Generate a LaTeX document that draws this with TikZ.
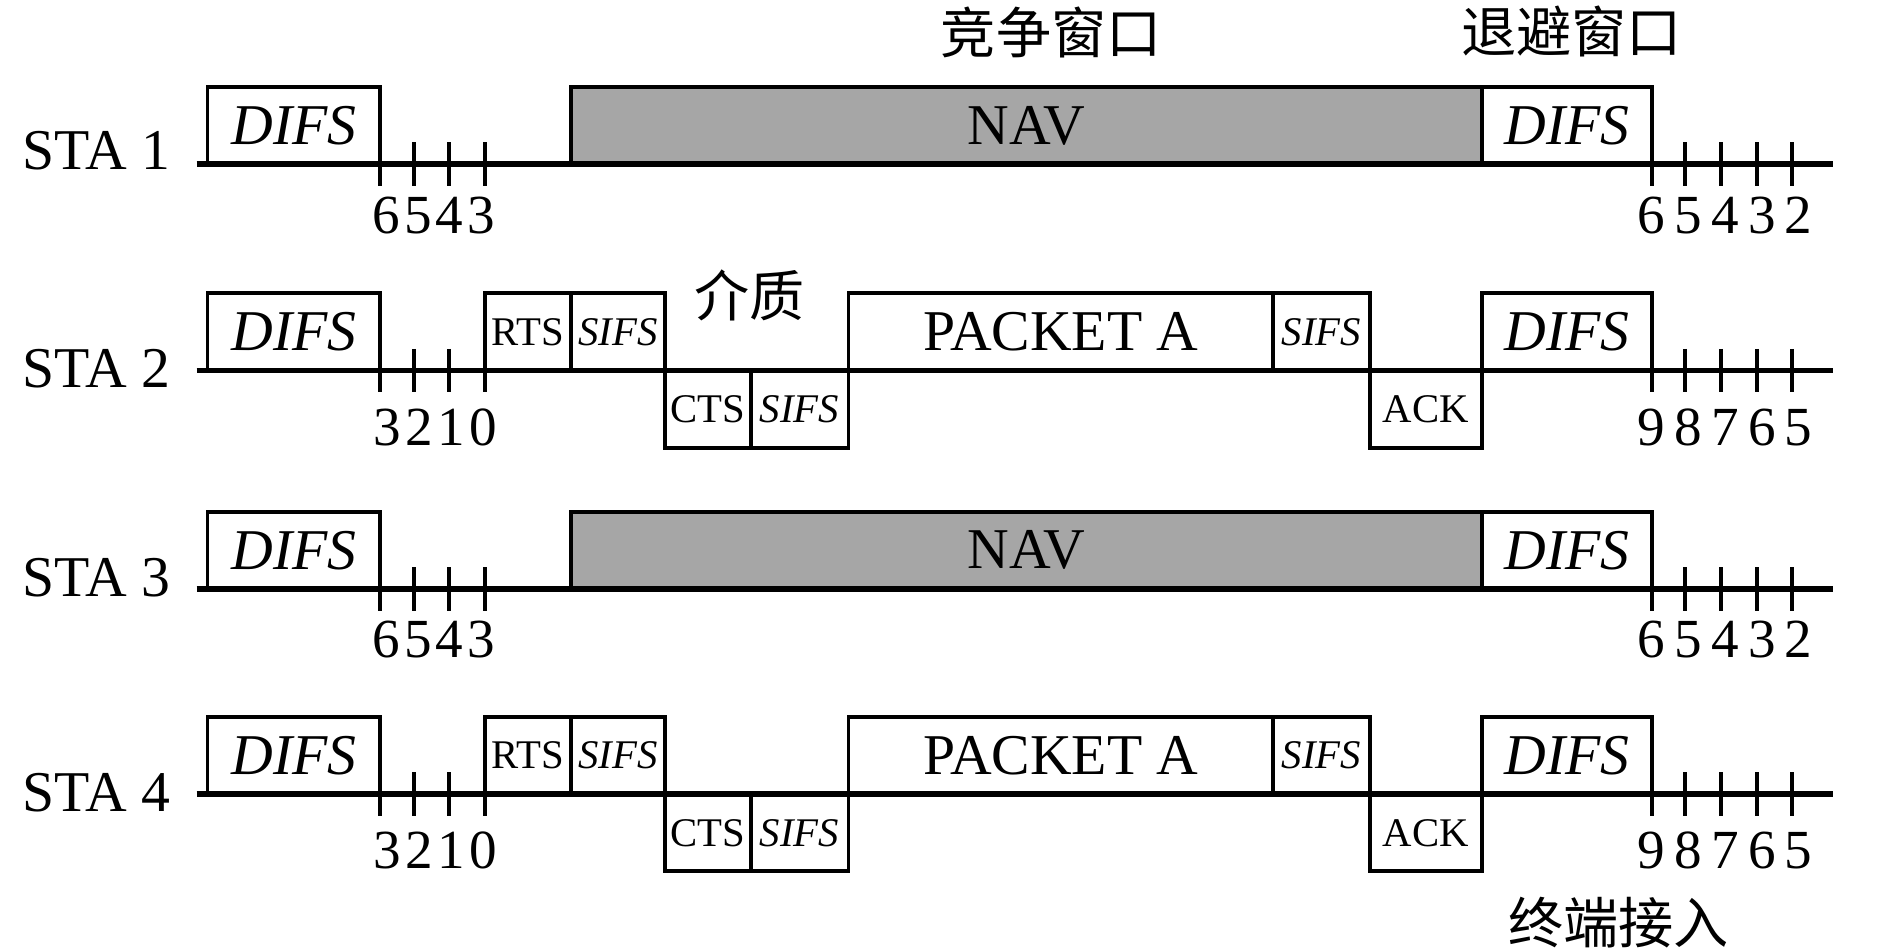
\documentclass[tikz,border=0pt]{standalone}
\usepackage{fontspec}
\setmainfont{Liberation Serif}
\newfontfamily\cjk{Noto Sans CJK SC}
\usepackage{tikz}
\usetikzlibrary{positioning}
\tikzstyle{slot} = [rectangle, draw=black, line width=0.9pt, fill=white, inner sep=0pt, outer sep=0pt, minimum height=0.64cm, font=\fontsize{13.6}{16}\selectfont]
\tikzstyle{short} = [slot, font=\fontsize{9.6}{11}\selectfont]
\tikzstyle{navslot} = [slot, fill=black!35]
\tikzstyle{timeline} = [line width=1.3pt]
\tikzstyle{tickmark} = [line width=0.9pt]
\tikzstyle{sta} = [anchor=east, inner sep=0pt, font=\fontsize{13.6}{16}\selectfont]
\tikzstyle{digits} = [inner sep=0pt, font=\fontsize{13}{16}\selectfont]
\tikzstyle{note} = [inner sep=0pt, font=\cjk\fontsize{13}{16}\selectfont]

\begin{document}
\begin{tikzpicture}
\useasboundingbox (0,0) rectangle (15.66,-7.87);

% titles
\node[note] (cw) at (8.71,-0.27) {竞争窗口};
\node[note] (bw) at (13.02,-0.26) {退避窗口};
\node[note] (med) at (6.21,-2.45) {介质};
\node[note] (acc) at (13.41,-7.64) {终端接入};

% STA 1
\node[sta] (l1) at (1.42,-1.25) {STA 1};
\node[slot, minimum width=1.43cm] (d1) at (2.435,-1.04) {\textit{DIFS}};
\node[navslot, minimum width=7.55cm] (nav1) at (8.505,-1.04) {NAV};
\node[slot, minimum width=1.41cm] (e1) at (12.985,-1.04) {\textit{DIFS}};
\draw[timeline] (1.63,-1.36) -- (15.19,-1.36);
\draw[tickmark] (d1.south east) -- ++(0,-0.18);
\draw[tickmark] (3.43,-1.18) -- (3.43,-1.54);
\draw[tickmark] (3.72,-1.18) -- (3.72,-1.54);
\draw[tickmark] (4.02,-1.18) -- (4.02,-1.54);
\draw[tickmark] (e1.south east) -- ++(0,-0.18);
\draw[tickmark] (13.96,-1.18) -- (13.96,-1.54);
\draw[tickmark] (14.26,-1.18) -- (14.26,-1.54);
\draw[tickmark] (14.56,-1.18) -- (14.56,-1.54);
\draw[tickmark] (14.85,-1.18) -- (14.85,-1.54);
\node[digits] (c1) at (3.595,-1.785) {6\kern1pt5\kern1pt4\kern1pt3};
\node[digits] (r1) at (14.295,-1.785) {6\,5\,4\,3\,2};

% STA 2
\node[sta] (l2) at (1.42,-3.055) {STA 2};
\node[slot, minimum width=1.43cm] (d2) at (2.435,-2.75) {\textit{DIFS}};
\node[short, minimum width=0.71cm] (rts2) at (4.375,-2.75) {RTS};
\node[short, minimum width=0.78cm] (s2) at (5.12,-2.75) {\textit{SIFS}};
\node[short, minimum width=0.71cm] (cts2) at (5.865,-3.39) {CTS};
\node[short, minimum width=0.81cm] (t2) at (6.625,-3.39) {\textit{SIFS}};
\node[slot, minimum width=3.52cm] (pk2) at (8.79,-2.75) {PACKET A};
\node[short, minimum width=0.80cm] (u2) at (10.95,-2.75) {\textit{SIFS}};
\node[short, minimum width=0.93cm] (ack2) at (11.815,-3.39) {ACK};
\node[slot, minimum width=1.41cm] (e2) at (12.985,-2.75) {\textit{DIFS}};
\draw[timeline] (1.63,-3.07) -- (15.19,-3.07);
\draw[tickmark] (d2.south east) -- ++(0,-0.18);
\draw[tickmark] (3.43,-2.89) -- (3.43,-3.25);
\draw[tickmark] (3.72,-2.89) -- (3.72,-3.25);
\draw[tickmark] (rts2.south west) -- ++(0,-0.18);
\draw[tickmark] (e2.south east) -- ++(0,-0.18);
\draw[tickmark] (13.96,-2.89) -- (13.96,-3.25);
\draw[tickmark] (14.26,-2.89) -- (14.26,-3.25);
\draw[tickmark] (14.56,-2.89) -- (14.56,-3.25);
\draw[tickmark] (14.85,-2.89) -- (14.85,-3.25);
\node[digits] (c2) at (3.606,-3.54) {3\kern1pt2\kern1pt1\kern1pt0};
\node[digits] (r2) at (14.295,-3.54) {9\,8\,7\,6\,5};

% STA 3
\node[sta] (l3) at (1.42,-4.787) {STA 3};
\node[slot, minimum width=1.43cm] (d3) at (2.435,-4.56) {\textit{DIFS}};
\node[navslot, minimum width=7.55cm] (nav3) at (8.505,-4.56) {NAV};
\node[slot, minimum width=1.41cm] (e3) at (12.985,-4.56) {\textit{DIFS}};
\draw[timeline] (1.63,-4.88) -- (15.19,-4.88);
\draw[tickmark] (d3.south east) -- ++(0,-0.18);
\draw[tickmark] (3.43,-4.70) -- (3.43,-5.06);
\draw[tickmark] (3.72,-4.70) -- (3.72,-5.06);
\draw[tickmark] (4.02,-4.70) -- (4.02,-5.06);
\draw[tickmark] (e3.south east) -- ++(0,-0.18);
\draw[tickmark] (13.96,-4.70) -- (13.96,-5.06);
\draw[tickmark] (14.26,-4.70) -- (14.26,-5.06);
\draw[tickmark] (14.56,-4.70) -- (14.56,-5.06);
\draw[tickmark] (14.85,-4.70) -- (14.85,-5.06);
\node[digits] (c3) at (3.595,-5.30) {6\kern1pt5\kern1pt4\kern1pt3};
\node[digits] (r3) at (14.295,-5.30) {6\,5\,4\,3\,2};

% STA 4
\node[sta] (l4) at (1.42,-6.57) {STA 4};
\node[slot, minimum width=1.43cm] (d4) at (2.435,-6.26) {\textit{DIFS}};
\node[short, minimum width=0.71cm] (rts4) at (4.375,-6.26) {RTS};
\node[short, minimum width=0.78cm] (s4) at (5.12,-6.26) {\textit{SIFS}};
\node[short, minimum width=0.71cm] (cts4) at (5.865,-6.90) {CTS};
\node[short, minimum width=0.81cm] (t4) at (6.625,-6.90) {\textit{SIFS}};
\node[slot, minimum width=3.52cm] (pk4) at (8.79,-6.26) {PACKET A};
\node[short, minimum width=0.80cm] (u4) at (10.95,-6.26) {\textit{SIFS}};
\node[short, minimum width=0.93cm] (ack4) at (11.815,-6.90) {ACK};
\node[slot, minimum width=1.41cm] (e4) at (12.985,-6.26) {\textit{DIFS}};
\draw[timeline] (1.63,-6.58) -- (15.19,-6.58);
\draw[tickmark] (d4.south east) -- ++(0,-0.18);
\draw[tickmark] (3.43,-6.40) -- (3.43,-6.76);
\draw[tickmark] (3.72,-6.40) -- (3.72,-6.76);
\draw[tickmark] (rts4.south west) -- ++(0,-0.18);
\draw[tickmark] (e4.south east) -- ++(0,-0.18);
\draw[tickmark] (13.96,-6.40) -- (13.96,-6.76);
\draw[tickmark] (14.26,-6.40) -- (14.26,-6.76);
\draw[tickmark] (14.56,-6.40) -- (14.56,-6.76);
\draw[tickmark] (14.85,-6.40) -- (14.85,-6.76);
\node[digits] (c4) at (3.606,-7.045) {3\kern1pt2\kern1pt1\kern1pt0};
\node[digits] (r4) at (14.295,-7.045) {9\,8\,7\,6\,5};
\end{tikzpicture}
\end{document}
